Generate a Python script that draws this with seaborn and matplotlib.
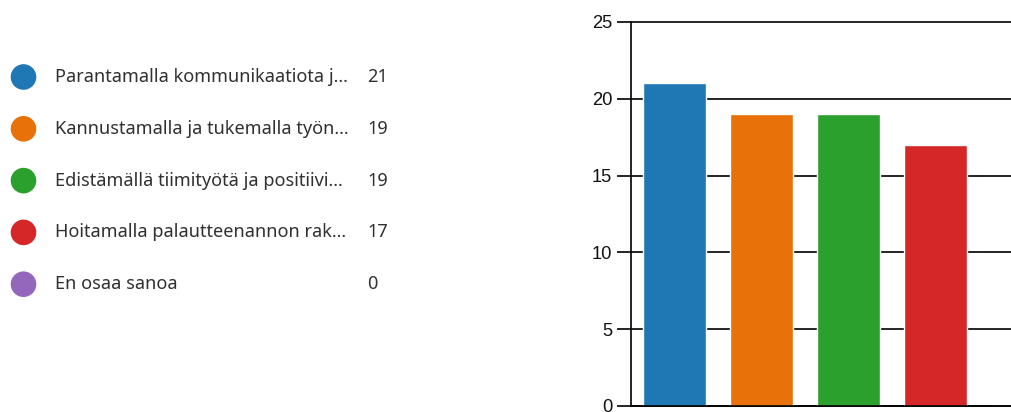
import matplotlib
matplotlib.use("Agg")
import matplotlib.pyplot as plt
import seaborn as sns
import pandas as pd

categories = [
    "Parantamalla kommunikaatiota j...",
    "Kannustamalla ja tukemalla työn...",
    "Edistämällä tiimityötä ja positiivi...",
    "Hoitamalla palautteenannon rak...",
    "En osaa sanoa",
]
counts = [21, 19, 19, 17, 0]
colors = ["#1f77b4", "#e8710a", "#2ca02c", "#d62728", "#9467bd"]
yticks = [0, 5, 10, 15, 20, 25]

sns.set_theme(style="white")
plt.rcParams["font.family"] = ["Liberation Sans", "DejaVu Sans"]

W, H = 1012, 412
fig = plt.figure(figsize=(W / 100, H / 100), dpi=100)

df = pd.DataFrame({"cat": categories, "n": counts})

# Bar chart (extends past right edge as in the reference)
ax = fig.add_axes([631 / W, 6 / H, 435 / W, 384 / H])
sns.barplot(data=df, x="cat", y="n", hue="cat", palette=colors, legend=False,
            width=0.713, saturation=1, ax=ax)
ax.set_xlim(-0.5, len(categories) - 0.5)
ax.set_ylim(0, 25)
ax.set_yticks(yticks)
ax.set_xticks([])
ax.set_xlabel("")
ax.set_ylabel("")
ax.yaxis.grid(True, color="black", linewidth=1.2)
ax.set_axisbelow(True)
for gl in ax.yaxis.get_gridlines():
    gl.set_clip_on(False)
for s in ["top", "right"]:
    ax.spines[s].set_visible(False)
for s in ["left", "bottom"]:
    ax.spines[s].set_color("black")
    ax.spines[s].set_linewidth(1.2)
ax.tick_params(axis="y", length=10, width=1.2, color="black", pad=3.6,
               labelsize=13.2, labelcolor="#111111", left=True)

# Legend panel on the left
lax = fig.add_axes([0, 0, 600 / W, 1])
lax.set_xlim(0, 600)
lax.set_ylim(H, 0)
lax.axis("off")
rows = [77 + 51.8 * i for i in range(len(categories))]
leg = pd.DataFrame({"x": [23.5] * len(categories), "y": rows, "cat": categories})
sns.scatterplot(data=leg, x="x", y="y", hue="cat", palette=colors, s=340,
                linewidth=0, legend=False, ax=lax)
lax.set_xlim(0, 600)
lax.set_ylim(H, 0)
for cat, n, y in zip(categories, counts, rows):
    lax.text(55, y, cat, va="center", ha="left", fontsize=13.1,
             family=["Noto Sans", "DejaVu Sans"], color="#323130")
    lax.text(367, y, str(n), va="center", ha="left", fontsize=13.1,
             family=["Noto Sans", "DejaVu Sans"], color="#323130")

fig.savefig("out.png", dpi=100)
